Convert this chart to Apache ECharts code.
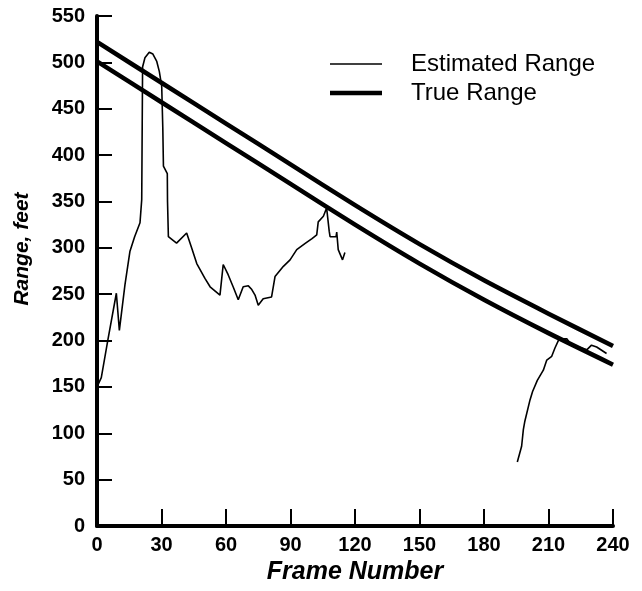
<!DOCTYPE html>
<html>
<head>
<meta charset="utf-8">
<script src="https://cdn.jsdelivr.net/npm/echarts@6/dist/echarts.min.js"></script>
<style>
html,body{margin:0;padding:0;background:#fff;}
#chart{width:642px;height:591px;}
</style>
</head>
<body>
<div id="chart"></div>
<script>
// Frame numbers and ranges (feet)
var trueFrames = [0, 30, 60, 90, 120, 150, 180, 210, 240];
var trueUpper  = [522, 478, 434, 390, 346, 304, 265, 229, 194];
var trueLower  = [501, 457, 413, 369, 325, 283, 244, 208, 174];

var estFrames = [0, 2, 5, 9, 10.4, 13, 15.3, 17.5, 20, 20.8, 21.2, 22.3, 24.3, 26, 27.8, 29, 30.1, 30.6, 30.9, 32.7, 32.8, 33.2, 37, 41.7, 44, 46.4, 50.2, 52.6, 57.2, 58.7, 61, 63.5, 65.7, 68, 70.4, 72, 73.5, 75, 77.3, 81.2, 82.8, 86.7, 89.8, 92.9, 97, 100, 102.2, 102.9, 105.3, 106.8, 108, 108.4, 111.2, 111.5, 112.2, 114.2, 115.3,
                 null,
                 195.5, 197.5, 198.3, 199, 201.4, 202.6, 204.8, 207.6, 209.2, 211.5, 213, 215, 218.5, 220, 224, 227.8, 230, 232.4, 237];
var estRange  = [150, 160, 200, 251, 211, 260, 296, 312, 327, 352, 495, 505, 511, 509, 501, 490, 474, 430, 388, 380, 350, 312, 305, 316, 300, 283, 267, 258, 249, 282, 271, 257, 244, 258, 259, 255, 249, 238, 245, 247, 269, 280, 287, 298, 305, 310, 314, 328, 334, 343, 318, 312, 312, 317, 298, 287, 295,
                 null,
                 69, 86, 104, 113, 136, 145, 157, 168, 179, 183, 192, 202, 202, 197, 193, 190, 195, 193, 186];

var xTicks = { min: 0, max: 240, interval: 30 };
var yTicks = { min: 0, max: 550, interval: 50 };

function zip(xs, ys) {
  var out = [];
  for (var i = 0; i < xs.length; i++) {
    out.push(xs[i] === null ? [null, null] : [xs[i], ys[i]]);
  }
  return out;
}

var chart = echarts.init(document.getElementById('chart'), null, { renderer: 'canvas' });
var fam = 'Liberation Sans, Arial, sans-serif';
var labelFont = { color: '#000', fontFamily: fam, fontWeight: 'bold' };

chart.setOption({
  backgroundColor: '#fff',
  animation: false,
  grid: { left: 97, right: 29, top: 16, bottom: 65, containLabel: false },
  legend: {
    orient: 'vertical',
    left: 325,
    top: 47,
    itemWidth: 52,
    itemHeight: 20,
    itemGap: 5,
    textStyle: { color: '#000', fontFamily: fam, fontSize: 24, padding: [0, 0, 0, 24] },
    data: [
      { name: 'Estimated Range', icon: 'path://M0,0 L52,0 L52,1.6 L0,1.6 Z', itemStyle: { color: '#000' } },
      { name: 'True Range', icon: 'path://M0,0 L52,0 L52,4.5 L0,4.5 Z', itemStyle: { color: '#000' } }
    ]
  },
  xAxis: {
    type: 'value',
    min: xTicks.min, max: xTicks.max, interval: xTicks.interval,
    name: 'Frame Number',
    nameLocation: 'middle',
    nameGap: 34,
    nameTextStyle: { color: '#000', fontFamily: fam, fontWeight: 'bold', fontStyle: 'italic', fontSize: 25 },
    axisLine: { show: true, lineStyle: { color: '#000', width: 4 } },
    axisTick: { show: true, inside: true, length: 17, lineStyle: { color: '#000', width: 2 } },
    axisLabel: Object.assign({ fontSize: 20, margin: 9 }, labelFont),
    splitLine: { show: false }
  },
  yAxis: {
    type: 'value',
    min: yTicks.min, max: yTicks.max, interval: yTicks.interval,
    name: 'Range, feet',
    nameLocation: 'middle',
    nameGap: 64,
    nameTextStyle: { color: '#000', fontFamily: fam, fontWeight: 'bold', fontStyle: 'italic', fontSize: 21, padding: [0, 0, 0, 44] },
    axisLine: { show: true, lineStyle: { color: '#000', width: 4 } },
    axisTick: { show: true, inside: true, length: 15, lineStyle: { color: '#000', width: 2 } },
    axisLabel: Object.assign({ fontSize: 20, margin: 12 }, labelFont),
    splitLine: { show: false }
  },
  series: [
    {
      name: 'Estimated Range',
      type: 'line',
      data: zip(estFrames, estRange),
      showSymbol: false,
      symbol: 'none',
      connectNulls: false,
      lineStyle: { color: '#000', width: 1.6 },
      itemStyle: { color: '#000' },
      z: 3
    },
    {
      name: 'True Range',
      type: 'line',
      data: zip(trueFrames, trueUpper),
      smooth: 0.25,
      showSymbol: false,
      symbol: 'none',
      lineStyle: { color: '#000', width: 4.5, join: 'round' },
      itemStyle: { color: '#000' },
      z: 2
    },
    {
      name: 'True Range',
      type: 'line',
      data: zip(trueFrames, trueLower),
      smooth: 0.25,
      showSymbol: false,
      symbol: 'none',
      lineStyle: { color: '#000', width: 4.5, join: 'round' },
      itemStyle: { color: '#000' },
      z: 2
    }
  ]
});
</script>
</body>
</html>
